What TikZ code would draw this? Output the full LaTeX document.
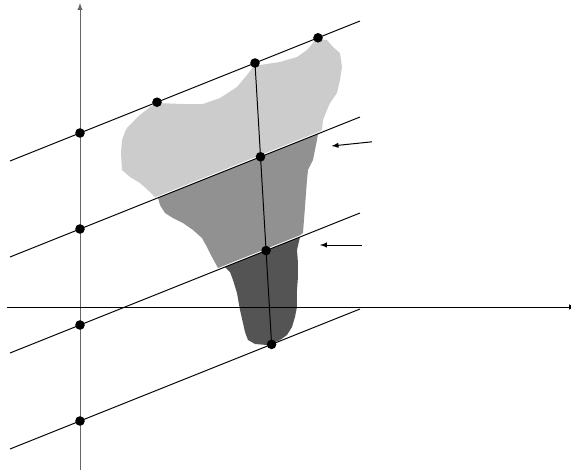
\documentclass[tikz,border=0pt]{standalone}
\usepackage{xcolor}
\usepackage{tikz}
\usetikzlibrary{arrows,calc}

\begin{document}
\begin{tikzpicture}[line width=0.7pt,>=latex,
  dot/.style={circle,fill=black,inner sep=0pt,minimum size=2.4mm}]
  \useasboundingbox (-2,-4.15) rectangle (12.275,7.675);
  \fill[black!20] (1.925,5.1) -- (2.175,5.09) -- (2.575,5.075) -- (3.075,5.075) -- (3.5,5.225) -- (3.925,5.5)
    -- (4.175,5.8) -- (4.325,6.0) -- (4.375,6.05) -- (4.5,6.05) -- (5.0,6.125) -- (5.425,6.25) -- (5.675,6.425)
    -- (5.825,6.6) -- (5.95,6.7) -- (6.175,6.675) -- (6.325,6.5) -- (6.5,6.35) -- (6.55,6.0) -- (6.5,5.675)
    -- (6.425,5.35) -- (6.25,5.1) -- (6.175,4.925) -- (6.075,4.675) -- (6.05,4.425) -- (5.95,4.375)
    -- (1.875,2.745) -- (1.75,2.875) -- (1.5,3.1) -- (1.25,3.25) -- (1.05,3.425) -- (1.025,3.85) -- (1.05,4.175)
    -- (1.125,4.375) -- (1.175,4.475) -- (1.25,4.55) -- (1.5,4.8) -- (1.75,5.0) -- cycle;
  \fill[black!43] (1.95,2.73) -- (2.0,2.55) -- (2.125,2.35) -- (2.325,2.225) -- (2.575,2.1) -- (2.825,1.925)
    -- (3.05,1.725) -- (3.175,1.5) -- (3.3,1.25) -- (3.45,0.975) -- (5.5,1.795) -- (5.575,1.85) -- (5.6,2.175)
    -- (5.625,2.5) -- (5.65,2.85) -- (5.675,3.175) -- (5.7,3.425) -- (5.825,3.675) -- (5.875,3.925)
    -- (5.925,4.175) -- (5.95,4.33) -- cycle;
  \fill[black!67] (3.625,1.0) -- (3.75,0.875) -- (3.825,0.675) -- (3.925,0.35) -- (4.0,-0.075) -- (4.075,-0.4)
    -- (4.125,-0.625) -- (4.2,-0.825) -- (4.375,-0.925) -- (4.675,-0.95) -- (4.825,-0.9) -- (5.0,-0.825)
    -- (5.175,-0.7) -- (5.3,-0.5) -- (5.375,-0.25) -- (5.425,0.0) -- (5.425,0.425) -- (5.45,0.75) -- (5.45,1.1)
    -- (5.425,1.425) -- (5.5,1.75) -- cycle;
  \coordinate (ybot) at (0,-4.075);
  \coordinate (ytop) at (0,7.6);
  \coordinate (xleft) at (-1.825,0);
  \coordinate (xright) at (12.4,0);
  \draw[->,gray!80!black] (ybot) -- (ytop);
  \draw[->] (xleft) -- (xright);
  \foreach \b/\n in {4.35/a,1.95/b,-0.45/c,-2.85/d}{
    \coordinate (\n1) at (-1.75,{\b-0.7});
    \coordinate (\n2) at (7,{\b+2.8});
    \draw (\n1) -- (\n2);
    \node[dot] (\n0) at (0,\b) {};
  }
  \node[dot] (pl) at (1.925,{4.35+0.4*1.925}) {};
  \node[dot] (pr) at (5.95,{4.35+0.4*5.95}) {};
  \coordinate (pa) at (4.375,6.1);
  \coordinate (pd) at (4.79,-0.934);
  \draw (pa) -- (pd);
  \node[dot] at (pa) {};
  \node[dot] (pb) at ($(pa)!1/3!(pd)$) {};
  \node[dot] (pc) at ($(pa)!2/3!(pd)$) {};
  \node[dot] at (pd) {};
  \coordinate (ua) at (7.3,4.13);
  \coordinate (ub) at (6.29,4.025);
  \coordinate (va) at (7.04,1.55);
  \coordinate (vb) at (6.0,1.55);
  \draw[->] (ua) -- (ub);
  \draw[->] (va) -- (vb);
\end{tikzpicture}
\end{document}
